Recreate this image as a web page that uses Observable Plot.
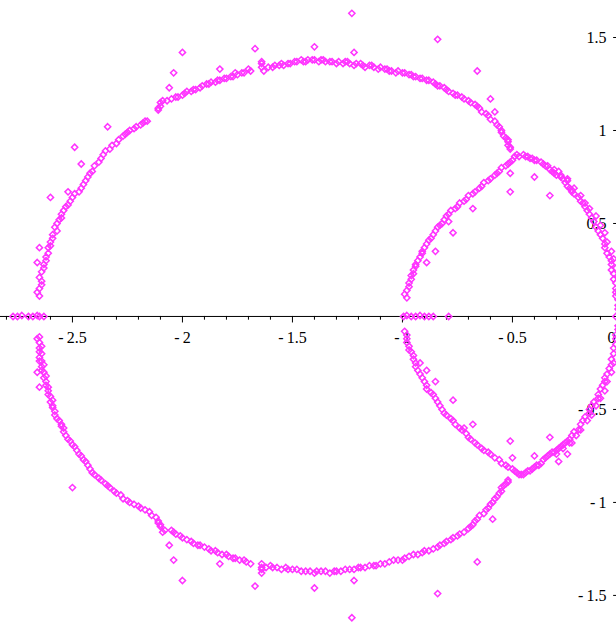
<!DOCTYPE html>
<html><head><meta charset="utf-8">
<script src="https://cdn.jsdelivr.net/npm/d3@7"></script>
<script src="https://cdn.jsdelivr.net/npm/@observablehq/plot@0.6"></script>
<style>html,body{margin:0;padding:0;background:#fff;overflow:hidden}#chart svg{display:block}</style>
</head><body><div id="chart"></div>
<script>
// Upper half of the large loop (x, y)
const bigUpper = [
[-2.65,0.11],[-2.65,0.15],[-2.64,0.19],[-2.64,0.24],[-2.63,0.28],[-2.62,0.32],[-2.61,0.37],[-2.60,0.40],
[-2.59,0.44],[-2.58,0.48],[-2.56,0.52],[-2.55,0.55],[-2.53,0.59],[-2.51,0.62],[-2.49,0.66],[-2.46,0.69],
[-2.44,0.73],[-2.42,0.77],[-2.40,0.81],[-2.37,0.85],[-2.35,0.89],[-2.32,0.92],[-2.29,0.95],[-2.26,0.98],
[-2.24,1.00],[-2.21,1.02],[-2.18,1.04],[-2.16,1.05],
[-2.11,1.11],[-2.10,1.13],[-2.09,1.16],[-2.05,1.17],[-2.02,1.18],[-1.99,1.20],[-1.96,1.21],[-1.94,1.22],
[-1.91,1.24],[-1.88,1.25],[-1.85,1.26],[-1.83,1.27],[-1.80,1.28],[-1.77,1.29],[-1.75,1.30],[-1.72,1.31],
[-1.69,1.32],[-1.64,1.37],[-1.64,1.34],[-1.63,1.32],[-1.59,1.34],[-1.56,1.35],[-1.54,1.35],[-1.51,1.36],
[-1.48,1.37],[-1.45,1.37],[-1.43,1.38],[-1.40,1.38],[-1.37,1.38],[-1.35,1.37],[-1.32,1.37],[-1.29,1.37],
[-1.26,1.37],[-1.24,1.36],[-1.21,1.36],[-1.18,1.35],[-1.15,1.35],[-1.13,1.34],[-1.10,1.34],[-1.07,1.33],
[-1.05,1.32],[-1.02,1.32],[-0.99,1.31],[-0.96,1.30],[-0.94,1.29],[-0.91,1.28],[-0.88,1.27],[-0.85,1.25],
[-0.83,1.24],[-0.80,1.22],[-0.77,1.20],[-0.75,1.19],[-0.72,1.17],[-0.69,1.15],[-0.66,1.13],[-0.64,1.10],
[-0.61,1.08],[-0.58,1.05],[-0.56,1.02],[-0.55,0.99],[-0.53,0.96],[-0.52,0.94],[-0.51,0.91],
[-2.66,0.13],[-2.64,0.17],[-2.65,0.21],[-2.63,0.26],[-2.62,0.30],[-2.61,0.34],[-2.60,0.38],[-2.59,0.42],
[-2.57,0.46],[-2.57,0.50],[-2.55,0.53],[-2.54,0.57],[-2.52,0.60],[-2.50,0.64],[-2.47,0.67],[-2.45,0.71],
[-2.43,0.75],[-2.41,0.78],[-2.38,0.83],[-2.36,0.87],[-2.33,0.90],[-2.30,0.93],[-2.27,0.97],[-2.25,0.99],
[-2.22,1.01],[-2.19,1.03],[-2.17,1.05],
[-2.11,1.12],[-2.10,1.15],[-2.07,1.16],[-2.03,1.18],[-2.00,1.19],[-1.98,1.21],[-1.95,1.22],[-1.92,1.23],
[-1.89,1.25],[-1.87,1.26],[-1.84,1.27],[-1.81,1.28],[-1.78,1.29],[-1.76,1.31],[-1.73,1.31],[-1.70,1.33],
[-1.64,1.36],[-1.61,1.34],[-1.58,1.35],[-1.55,1.36],[-1.52,1.36],[-1.49,1.37],[-1.46,1.38],[-1.44,1.37],
[-1.41,1.38],[-1.38,1.37],[-1.36,1.38],[-1.33,1.37],[-1.30,1.36],[-1.27,1.36],[-1.25,1.37],[-1.22,1.35],
[-1.19,1.36],[-1.17,1.34],[-1.14,1.35],[-1.11,1.33],[-1.08,1.33],[-1.06,1.32],[-1.03,1.31],[-1.00,1.31],
[-0.97,1.30],[-0.95,1.29],[-0.92,1.28],[-0.89,1.27],[-0.86,1.26],[-0.84,1.24],[-0.81,1.23],[-0.79,1.21],
[-0.76,1.19],[-0.73,1.18],[-0.70,1.16],[-0.67,1.14],[-0.65,1.12],[-0.62,1.09],[-0.60,1.06],[-0.57,1.03],
[-0.55,1.00],[-0.54,0.97],[-0.52,0.95],[-0.52,0.92],[-0.51,0.90]
];
// Upper half of the small loop
const smallUpper = [
[-0.98,0.10],[-0.98,0.14],[-0.97,0.18],[-0.96,0.22],[-0.95,0.25],[-0.94,0.28],[-0.92,0.32],[-0.91,0.35],
[-0.89,0.39],[-0.87,0.42],[-0.85,0.46],[-0.83,0.49],[-0.81,0.52],[-0.79,0.55],[-0.76,0.58],[-0.74,0.61],
[-0.71,0.63],[-0.68,0.66],[-0.65,0.69],[-0.63,0.72],[-0.60,0.74],[-0.57,0.77],[-0.55,0.80],[-0.52,0.82],
[-0.50,0.84],[-0.48,0.87],[-0.45,0.87],[-0.43,0.86],[-0.41,0.85],[-0.39,0.84],[-0.36,0.82],[-0.34,0.81],
[-0.32,0.78],[-0.30,0.76],[-0.27,0.74],[-0.25,0.70],[-0.23,0.67],[-0.20,0.64],[-0.18,0.61],[-0.16,0.57],
[-0.14,0.53],[-0.12,0.48],[-0.10,0.44],[-0.08,0.39],[-0.07,0.34],[-0.05,0.30],[-0.05,0.25],[-0.04,0.20],
[-0.03,0.15],[-0.03,0.11],[-0.02,0.06],[-0.01,0.02],
[-0.99,0.12],[-0.97,0.16],[-0.96,0.20],[-0.95,0.23],[-0.94,0.27],[-0.93,0.30],[-0.91,0.34],[-0.90,0.37],
[-0.88,0.41],[-0.86,0.44],[-0.84,0.48],[-0.82,0.50],[-0.80,0.54],[-0.78,0.57],[-0.75,0.59],[-0.72,0.62],
[-0.70,0.65],[-0.67,0.67],[-0.64,0.70],[-0.61,0.73],[-0.58,0.76],[-0.56,0.78],[-0.53,0.81],[-0.51,0.83],
[-0.49,0.86],[-0.47,0.86],[-0.44,0.86],[-0.42,0.85],[-0.40,0.84],[-0.37,0.83],[-0.35,0.81],[-0.33,0.79],
[-0.31,0.77],[-0.28,0.75],[-0.26,0.72],[-0.24,0.69],[-0.22,0.66],[-0.19,0.62],[-0.17,0.59],[-0.15,0.55],
[-0.13,0.51],[-0.11,0.46],[-0.09,0.42],[-0.08,0.37],[-0.06,0.32],[-0.05,0.28],[-0.04,0.23],[-0.03,0.18],
[-0.03,0.13],[-0.02,0.09],[-0.02,0.04],
[-0.31,0.79],[-0.28,0.76],[-0.25,0.73],[-0.22,0.69],[-0.19,0.65],[-0.17,0.61],[-0.15,0.58],[-0.12,0.54],
[-0.10,0.49],[-0.08,0.45],[-0.07,0.40],[-0.05,0.35],[-0.04,0.31],[-0.03,0.26],[-0.02,0.21]
];
// Lower half of the large loop
const bigLower = [
[-2.65,-0.11],[-2.65,-0.14],[-2.65,-0.17],[-2.64,-0.20],[-2.64,-0.24],[-2.64,-0.27],[-2.63,-0.30],[-2.63,-0.33],
[-2.62,-0.37],[-2.61,-0.40],[-2.60,-0.43],[-2.60,-0.46],[-2.59,-0.49],[-2.58,-0.53],[-2.56,-0.56],[-2.55,-0.59],
[-2.54,-0.62],[-2.52,-0.66],[-2.50,-0.69],[-2.48,-0.72],[-2.46,-0.75],[-2.44,-0.78],[-2.42,-0.82],[-2.40,-0.85],
[-2.37,-0.88],[-2.34,-0.91],[-2.31,-0.94],[-2.28,-0.96],[-2.25,-0.99],[-2.22,-1.01],[-2.19,-1.03],[-2.15,-1.05],
[-2.12,-1.08],[-2.11,-1.11],[-2.10,-1.13],[-2.09,-1.16],[-2.05,-1.15],[-2.03,-1.17],[-2.00,-1.19],[-1.96,-1.21],
[-1.93,-1.23],[-1.90,-1.24],[-1.87,-1.26],[-1.84,-1.27],[-1.80,-1.28],[-1.77,-1.30],[-1.74,-1.31],[-1.71,-1.32],
[-1.64,-1.33],[-1.64,-1.35],[-1.64,-1.38],[-1.60,-1.34],[-1.57,-1.35],[-1.53,-1.35],[-1.50,-1.36],[-1.46,-1.37],
[-1.42,-1.37],[-1.39,-1.37],[-1.35,-1.37],[-1.31,-1.37],[-1.28,-1.37],[-1.24,-1.36],[-1.20,-1.35],[-1.17,-1.35],
[-1.13,-1.34],[-1.10,-1.33],[-1.06,-1.32],[-1.02,-1.31],[-0.99,-1.30],[-0.95,-1.28],[-0.91,-1.27],[-0.88,-1.26],
[-0.84,-1.24],[-0.81,-1.22],[-0.78,-1.20],[-0.75,-1.18],[-0.72,-1.16],[-0.69,-1.13],[-0.67,-1.10],[-0.65,-1.07],
[-0.62,-1.04],[-0.60,-1.01],[-0.58,-0.98],[-0.56,-0.95],[-0.55,-0.92],[-0.53,-0.90],[-0.52,-0.88],
[-2.66,-0.12],[-2.64,-0.16],[-2.65,-0.19],[-2.65,-0.22],[-2.63,-0.26],[-2.64,-0.29],[-2.62,-0.32],[-2.62,-0.35],
[-2.61,-0.38],[-2.61,-0.42],[-2.59,-0.45],[-2.59,-0.48],[-2.58,-0.51],[-2.57,-0.55],[-2.55,-0.58],[-2.54,-0.60],
[-2.53,-0.64],[-2.51,-0.67],[-2.49,-0.70],[-2.47,-0.74],[-2.45,-0.77],[-2.43,-0.80],[-2.41,-0.84],[-2.38,-0.87],
[-2.35,-0.90],[-2.33,-0.92],[-2.30,-0.95],[-2.27,-0.98],[-2.24,-1.00],[-2.20,-1.02],[-2.17,-1.04],[-2.14,-1.07],
[-2.11,-1.10],[-2.10,-1.12],[-2.08,-1.15],[-2.04,-1.16],[-2.01,-1.18],[-1.98,-1.20],[-1.95,-1.22],[-1.92,-1.23],
[-1.88,-1.25],[-1.85,-1.26],[-1.82,-1.28],[-1.79,-1.29],[-1.76,-1.30],[-1.72,-1.31],[-1.69,-1.33],[-1.64,-1.36],
[-1.62,-1.35],[-1.59,-1.35],[-1.55,-1.36],[-1.52,-1.36],[-1.48,-1.36],[-1.44,-1.37],[-1.40,-1.38],[-1.37,-1.37],
[-1.33,-1.38],[-1.30,-1.37],[-1.26,-1.36],[-1.22,-1.36],[-1.19,-1.35],[-1.15,-1.34],[-1.12,-1.34],[-1.08,-1.33],
[-1.04,-1.31],[-1.00,-1.31],[-0.97,-1.29],[-0.93,-1.28],[-0.90,-1.26],[-0.86,-1.25],[-0.83,-1.23],[-0.80,-1.21],
[-0.77,-1.19],[-0.74,-1.17],[-0.70,-1.14],[-0.68,-1.12],[-0.66,-1.09],[-0.63,-1.06],[-0.61,-1.03],[-0.59,-1.00],
[-0.57,-0.97],[-0.55,-0.94],[-0.54,-0.91],[-0.52,-0.89]
];
// Lower half of the small loop
const smallLower = [
[-0.99,-0.08],[-0.98,-0.12],[-0.97,-0.16],[-0.96,-0.19],[-0.95,-0.23],[-0.94,-0.27],[-0.92,-0.31],[-0.90,-0.35],
[-0.89,-0.39],[-0.86,-0.42],[-0.84,-0.46],[-0.82,-0.50],[-0.80,-0.53],[-0.77,-0.56],[-0.74,-0.60],[-0.71,-0.63],
[-0.69,-0.66],[-0.66,-0.69],[-0.63,-0.72],[-0.60,-0.74],[-0.56,-0.77],[-0.53,-0.80],[-0.50,-0.82],[-0.48,-0.84],
[-0.46,-0.85],[-0.44,-0.84],[-0.42,-0.83],[-0.40,-0.81],[-0.38,-0.80],[-0.36,-0.77],[-0.35,-0.76],[-0.33,-0.74],
[-0.31,-0.73],[-0.29,-0.71],[-0.27,-0.69],[-0.25,-0.67],[-0.23,-0.64],[-0.20,-0.61],[-0.18,-0.56],[-0.15,-0.52],
[-0.14,-0.48],[-0.11,-0.44],[-0.10,-0.39],[-0.08,-0.35],[-0.07,-0.31],[-0.05,-0.26],[-0.04,-0.20],[-0.03,-0.15],
[-0.03,-0.10],[-0.02,-0.05],
[-0.98,-0.10],[-0.98,-0.14],[-0.97,-0.18],[-0.95,-0.21],[-0.94,-0.25],[-0.93,-0.29],[-0.91,-0.33],[-0.89,-0.37],
[-0.87,-0.41],[-0.85,-0.44],[-0.83,-0.48],[-0.81,-0.52],[-0.78,-0.55],[-0.76,-0.58],[-0.73,-0.61],[-0.70,-0.65],
[-0.67,-0.68],[-0.64,-0.71],[-0.61,-0.73],[-0.58,-0.76],[-0.55,-0.79],[-0.52,-0.81],[-0.49,-0.83],[-0.47,-0.85],
[-0.45,-0.85],[-0.43,-0.83],[-0.41,-0.82],[-0.39,-0.80],[-0.37,-0.79],[-0.34,-0.75],[-0.32,-0.73],[-0.30,-0.72],
[-0.28,-0.70],[-0.26,-0.68],[-0.24,-0.66],[-0.22,-0.62],[-0.19,-0.58],[-0.17,-0.54],[-0.15,-0.50],[-0.13,-0.46],
[-0.11,-0.42],[-0.09,-0.37],[-0.08,-0.33],[-0.06,-0.28],[-0.05,-0.23],[-0.04,-0.17],[-0.03,-0.12],[-0.02,-0.07],
[-0.30,-0.74],[-0.27,-0.71],[-0.24,-0.68],[-0.21,-0.64],[-0.19,-0.61],[-0.16,-0.56],[-0.14,-0.53],[-0.12,-0.48],
[-0.10,-0.44],[-0.08,-0.40],[-0.07,-0.35],[-0.05,-0.30],[-0.04,-0.25]
];
// Points lying on the real axis
const onAxis = [
[-2.77,0],[-2.75,0],[-2.73,0.005],[-2.70,0],[-2.68,0],[-2.66,0.005],[-2.65,0],[-2.63,0],
[-0.995,0],[-0.98,0.005],[-0.96,0],[-0.94,0],[-0.92,0.005],[-0.90,0],[-0.88,0],[-0.86,0],[-0.79,0],[-0.03,0]
];
// Scattered points off the curves
const scattered = [
[-2.00,1.42],[-2.04,1.31],[-2.06,1.23],[-1.67,1.44],[-1.83,1.33],[-2.34,1.02],[-2.49,0.91],[-2.46,0.82],
[-2.60,0.64],[-2.52,0.67],[-1.23,1.63],[-1.40,1.45],[-1.22,1.42],[-0.84,1.49],[-0.66,1.32],[-0.60,1.17],
[-0.58,1.10],[-2.66,0.29],[-2.65,0.37],
[-2.06,-1.23],[-2.04,-1.31],[-2.00,-1.42],[-1.83,-1.33],[-1.67,-1.45],[-1.40,-1.46],[-1.22,-1.42],[-1.23,-1.62],
[-0.84,-1.49],[-0.66,-1.32],[-2.50,-0.92],[-2.65,-0.38],[-2.66,-0.30],[-2.65,-0.24],[-0.59,-1.09],
[-0.51,0.67],[-0.33,0.65],[-0.29,0.78],[-0.25,0.74],[-0.23,0.68],[-0.68,0.58],[-0.77,0.45],[-0.85,0.35],
[-0.89,0.29],[-0.79,0.51],[-0.51,0.77],[-0.40,0.75],
[-0.85,-0.35],[-0.77,-0.45],[-0.68,-0.58],[-0.72,-0.60],[-0.51,-0.67],[-0.33,-0.65],[-0.25,-0.74],[-0.29,-0.78],
[-0.23,-0.68],[-0.89,-0.29],[-0.92,-0.25],[-0.50,-0.76],[-0.40,-0.75]
];
const xMajor = [-2.5,-2,-1.5,-1,-0.5];
const xMinor = [-2.8,-2.7,-2.6,-2.4,-2.3,-2.2,-2.1,-1.9,-1.8,-1.7,-1.6,-1.4,-1.3,-1.2,-1.1,-0.9,-0.8,-0.7,-0.6,-0.4,-0.3,-0.2,-0.1];
const yMajor = [1.5,1,0.5,-0.5,-1,-1.5];
const originLabel = ["0"];

const pts = [...bigUpper, ...smallUpper, ...bigLower, ...smallLower, ...onAxis, ...scattered].map(([x, y]) => ({x, y}));
const fmt = d => d < 0 ? "-\u2009" + Math.abs(d) : String(d);
const font = "Liberation Serif, Times New Roman, serif";

const chart = Plot.plot({
  width: 616, height: 623, margin: 0,
  x: {domain: [-2.827, -0.027], axis: null},
  y: {domain: [-1.651, 1.699], axis: null},
  style: {background: "#fff"},
  marks: [
    Plot.ruleY([0], {stroke: "#000", strokeWidth: 1}),
    Plot.ruleX(xMinor, {x: d => d, y1: 0, y2: -0.02, stroke: "#000"}),
    Plot.ruleX(xMajor, {x: d => d, y1: 0, y2: -0.035, stroke: "#000"}),
    Plot.ruleY(yMajor, {y: d => d, x1: -0.04, x2: 0, stroke: "#000"}),
    Plot.text(xMajor, {x: d => d, y: () => 0, text: fmt, dy: 21, fontSize: 16, fontFamily: font, fill: "#000"}),
    Plot.text(originLabel, {x: () => 0, y: () => 0, text: d => d, dy: 21, dx: -11, fontSize: 16, fontFamily: font, fill: "#000"}),
    Plot.text(yMajor, {x: () => 0, y: d => d, text: fmt, dx: -16, textAnchor: "end", fontSize: 16, fontFamily: font, fill: "#000"}),
    Plot.dot(pts, {x: "x", y: "y", symbol: "diamond2", r: 2.8, stroke: "#ff33ff", strokeWidth: 1.5})
  ]
});
document.getElementById("chart").appendChild(chart);
</script>
</body></html>
